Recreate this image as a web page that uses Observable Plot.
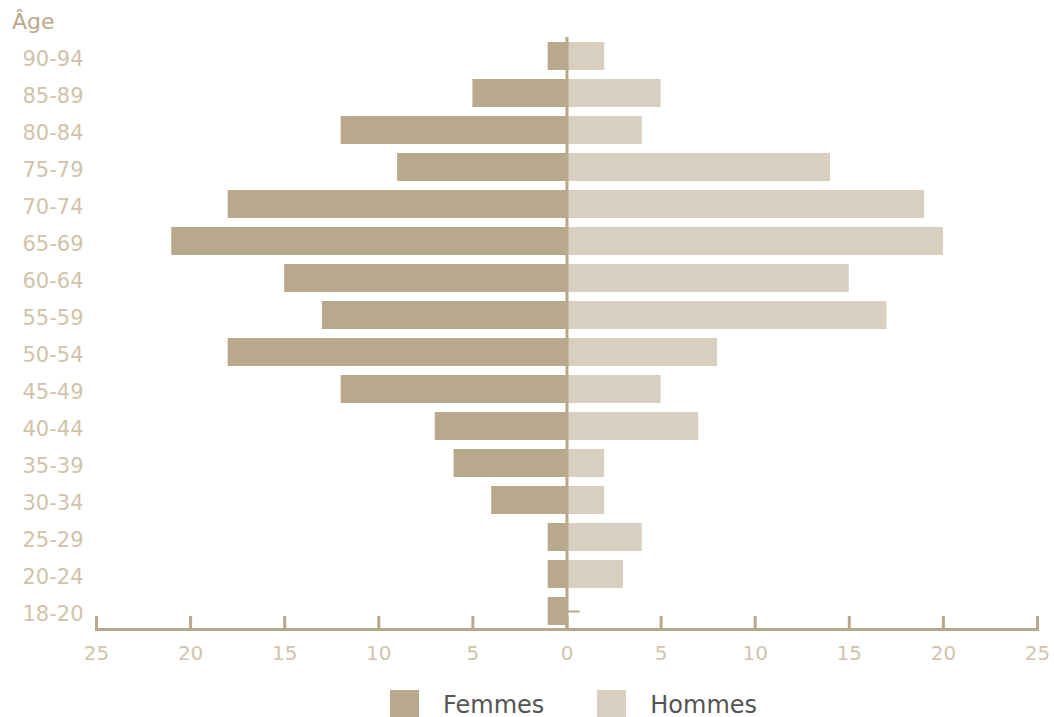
<!DOCTYPE html>
<html>
<head>
<meta charset="utf-8">
<script src="https://cdn.jsdelivr.net/npm/d3@7"></script>
<script src="https://cdn.jsdelivr.net/npm/@observablehq/plot@0.6"></script>
<style>
  body { margin: 0; background: #fff; font-family: "DejaVu Sans", sans-serif; }
  #wrap { position: relative; width: 1054px; height: 717px; overflow: hidden; }
  #agetitle { position: absolute; left: 12px; top: 9px; font-size: 22px; color: #b8a98c; }
  #legend { position: absolute; left: 390px; top: 690px; display: flex; align-items: center; font-size: 24px; color: #555; }
  .sw { width: 29px; height: 29px; margin-right: 24px; }
  .item { display: flex; align-items: center; margin-right: 53px; }
</style>
</head>
<body>
<div id="wrap">
  <div id="chart"></div>
  <div id="agetitle">Âge</div>
  <div id="legend"></div>
</div>
<script>
// Age groups, from oldest (top) to youngest (bottom)
const ages = ["90-94", "85-89", "80-84", "75-79", "70-74", "65-69", "60-64", "55-59",
              "50-54", "45-49", "40-44", "35-39", "30-34", "25-29", "20-24", "18-20"];
// Counts per age group
const femmes = [1, 5, 12, 9, 18, 21, 15, 13, 18, 12, 7, 6, 4, 1, 1, 1];
const hommes = [2, 5, 4, 14, 19, 20, 15, 17, 8, 5, 7, 2, 2, 4, 3, 0];
const xTicks = [-25, -20, -15, -10, -5, 0, 5, 10, 15, 20, 25];
const seriesNames = ["Femmes", "Hommes"];
const seriesColors = ["#b8a98c", "#d8cfc0"];

const rows = ages.map((age, i) => ({age, f: femmes[i], h: hommes[i]}));
// Stub marking an empty group on the men's side
const stubLength = 0.7;
const emptyRows = rows.filter(d => d.h === 0);

const axisColor = "#b8a98c";

const chart = Plot.plot({
  width: 1054,
  height: 670,
  marginLeft: 96,
  marginRight: 17,
  marginTop: 37,
  marginBottom: 41,
  style: {fontFamily: "DejaVu Sans, sans-serif", background: "transparent"},
  x: {domain: [-25, 25]},
  y: {domain: ages, paddingInner: 0.25, paddingOuter: 0.108},
  marks: [
    Plot.barX(rows, {y: "age", x1: d => -d.f, x2: 0, fill: seriesColors[0]}),
    Plot.barX(rows, {y: "age", x1: 0, x2: "h", fill: seriesColors[1]}),
    Plot.ruleY(emptyRows, {y: "age", x1: 0, x2: () => stubLength, stroke: axisColor, strokeWidth: 2}),
    Plot.ruleX([0], {stroke: axisColor, strokeWidth: 3}),
    Plot.frame({anchor: "bottom", stroke: axisColor, strokeWidth: 3}),
    Plot.axisX(xTicks, {
      anchor: "bottom",
      tickSize: -13,
      tickPadding: 29,
      stroke: axisColor,
      strokeWidth: 3,
      tickFormat: d => Math.abs(d),
      fill: "#d0c4ad",
      fontSize: 20,
      label: null
    }),
    Plot.axisY({
      anchor: "left",
      tickSize: 0,
      tickPadding: 13,
      fill: "#d0c3aa",
      fontSize: 21,
      dy: 3,
      label: null
    })
  ]
});
document.getElementById("chart").appendChild(chart);

// Legend
const legend = document.getElementById("legend");
seriesNames.forEach((name, i) => {
  const item = document.createElement("div");
  item.className = "item";
  const sw = document.createElement("div");
  sw.className = "sw";
  sw.style.background = seriesColors[i];
  const label = document.createElement("span");
  label.textContent = name;
  item.appendChild(sw);
  item.appendChild(label);
  legend.appendChild(item);
});
</script>
</body>
</html>
